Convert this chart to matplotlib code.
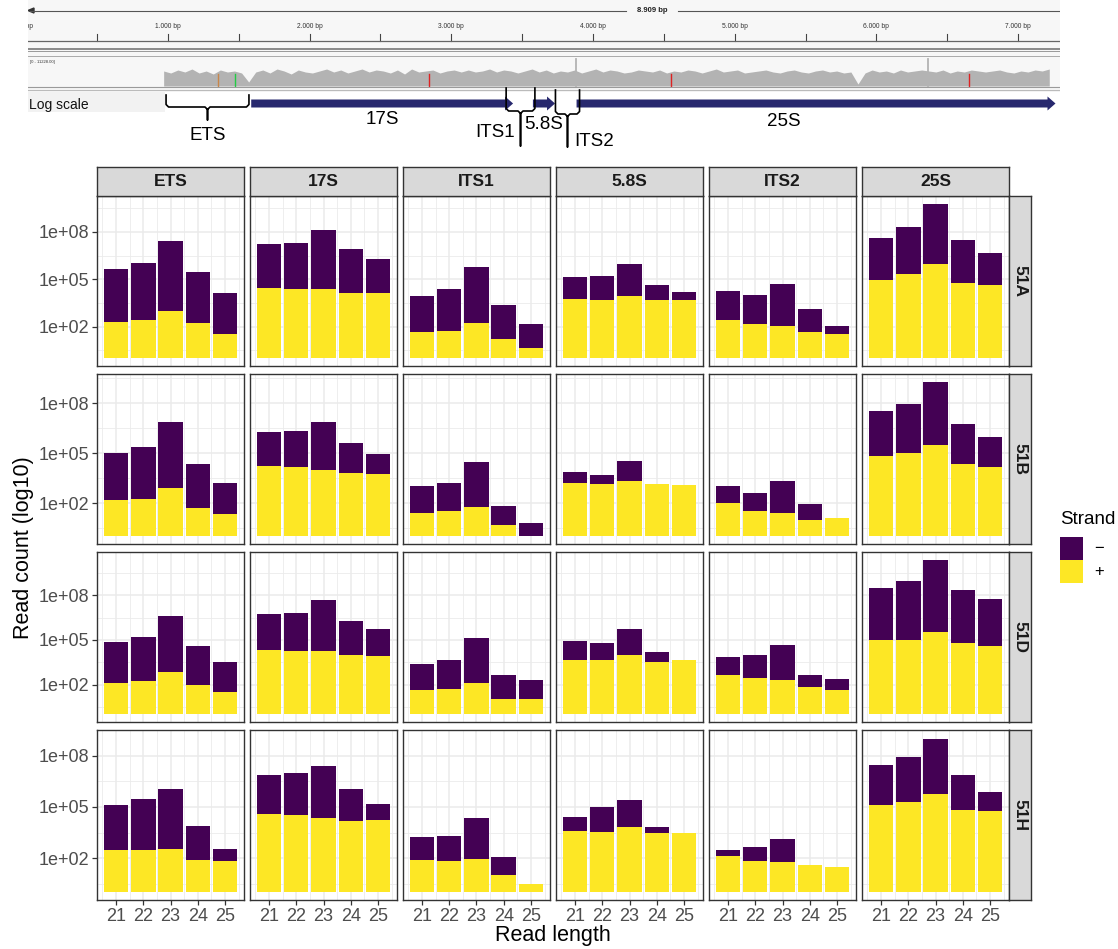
import numpy as np
import matplotlib
matplotlib.use("Agg")
import matplotlib.pyplot as plt
from matplotlib.patches import Rectangle, Polygon

plt.rcParams['font.family'] = ['Liberation Sans', 'DejaVu Sans']

W, H = 1118, 949
fig = plt.figure(figsize=(W / 100, H / 100), dpi=100)

# ---------------- data ----------------
regions = ["ETS", "17S", "ITS1", "5.8S", "ITS2", "25S"]
samples = ["51A", "51B", "51D", "51H"]
read_lengths = [21, 22, 23, 24, 25]
strand_labels = ["\u2212", "+"]
ytick_vals = [2, 5, 8]
ytick_labels = ["1e+02", "1e+05", "1e+08"]

# log10(read count), per region (ETS, 17S, ITS1, 5.8S, ITS2, 25S), per read length 21..25
plus_51A = [[2.32, 2.40, 3.01, 2.21, 1.56], [4.44, 4.36, 4.36, 4.13, 4.13],
            [1.68, 1.75, 2.21, 1.20, 0.67], [3.77, 3.71, 3.94, 3.71, 3.66],
            [2.44, 2.17, 2.02, 1.66, 1.52], [4.99, 5.35, 6.00, 4.74, 4.65]]
minus_51A = [[3.32, 3.64, 4.44, 3.28, 2.57], [2.82, 2.97, 3.79, 2.82, 2.16],
             [2.28, 2.63, 3.60, 2.15, 1.50], [1.35, 1.51, 2.06, 0.94, 0.53],
             [1.79, 1.83, 2.67, 1.46, 0.52], [2.61, 2.94, 3.79, 2.75, 2.00]]

plus_51B = [[2.16, 2.26, 2.92, 1.68, 1.32], [4.23, 4.15, 4.01, 3.79, 3.75],
            [1.40, 1.50, 1.78, 0.67, 0.00], [3.22, 3.14, 3.35, 3.12, 3.06],
            [2.02, 1.50, 1.40, 1.00, 1.10], [4.81, 4.99, 5.47, 4.33, 4.15]]
minus_51B = [[2.87, 3.13, 3.92, 2.67, 1.90], [2.01, 2.17, 2.87, 1.82, 1.18],
             [1.60, 1.72, 2.69, 1.17, 0.78], [0.67, 0.53, 1.20, 0.00, 0.00],
             [0.98, 1.12, 1.91, 0.94, 0.00], [2.71, 2.97, 3.82, 2.43, 1.81]]

plus_51D = [[2.13, 2.22, 2.83, 1.98, 1.53], [4.32, 4.25, 4.25, 4.01, 3.94],
            [1.64, 1.67, 2.13, 1.00, 1.04], [3.67, 3.67, 3.96, 3.52, 3.65],
            [2.67, 2.47, 2.33, 1.84, 1.64], [4.97, 5.01, 5.55, 4.77, 4.61]]
minus_51D = [[2.70, 2.97, 3.79, 2.63, 1.97], [2.41, 2.59, 3.42, 2.28, 1.81],
             [1.72, 2.00, 3.02, 1.67, 1.29], [1.25, 1.14, 1.79, 0.69, 0.00],
             [1.21, 1.49, 2.33, 0.83, 0.74], [3.55, 3.95, 4.84, 3.61, 3.13]]

plus_51H = [[2.46, 2.46, 2.56, 1.90, 1.81], [4.61, 4.51, 4.34, 4.20, 4.26],
            [1.90, 1.81, 1.94, 1.00, 0.46], [3.58, 3.53, 3.83, 3.45, 3.45],
            [2.12, 1.81, 1.77, 1.59, 1.50], [5.11, 5.28, 5.76, 4.82, 4.76]]
minus_51H = [[2.65, 3.00, 3.46, 1.97, 0.75], [2.27, 2.45, 3.03, 1.82, 0.91],
             [1.34, 1.50, 2.40, 1.04, 0.00], [0.81, 1.46, 1.59, 0.35, 0.00],
             [0.34, 0.87, 1.33, 0.00, 0.00], [2.35, 2.63, 3.23, 2.03, 1.12]]

plus_by_sample = {"51A": plus_51A, "51B": plus_51B, "51D": plus_51D, "51H": plus_51H}
minus_by_sample = {"51A": minus_51A, "51B": minus_51B, "51D": minus_51D, "51H": minus_51H}

# genome browser (bp coordinates)
ruler_labels_bp = [0, 1000, 2000, 3000, 4000, 5000, 6000, 7000]
ruler_ticks_bp = [500, 1000, 1500, 2000, 2500, 3000, 3500, 4000, 4500, 5000,
                  5500, 6000, 6500, 7000]
arrow_features = {"17S": (1588, 3436), "5.8S": (3576, 3732), "25S": (3884, 7264)}
brace_features = {"ETS": (987, 1572), "ITS1": (3387, 3590), "ITS2": (3735, 3905)}
# coverage depth (pixels of track height) every 50 bp from 970 bp
cov_h = [15, 13, 16, 14, 17, 13, 15, 12, 16, 14, 15, 13,
         4,
         14, 16, 13, 17, 15, 12, 16, 14, 13, 15, 17, 14, 16, 13, 15,
         17, 14, 16, 15, 13, 16, 12, 17, 14, 15, 16, 13, 15, 16, 14,
         16, 14, 15, 17, 14, 16, 15, 13, 15, 17, 14, 16, 13, 15, 14,
         16, 13, 15, 17, 14, 16, 15, 13, 14, 16, 15, 14, 16, 13, 15,
         14, 16, 15, 13, 15, 17, 14, 15, 16, 13, 14, 15, 16, 14, 13,
         15, 16, 14, 13, 15, 16, 14, 15, 13, 14,
         2,
         13, 16, 14, 15, 13, 16, 14, 15, 16, 15, 14, 16, 13, 15,
         14, 16, 15, 14, 15, 16, 14, 13, 15, 14, 16, 15, 17]
spikes_bp = [3880, 6364]
mismatch_bp = [1353, 1474, 2840, 4550, 6653]
mismatch_col = ['#c8864a', '#22cc44', '#dd2222', '#dd2222', '#dd2222']

PUR = "#440154"
YEL = "#FDE725"


def fbox(x0, y0, w, h):
    return [x0 / W, 1 - (y0 + h) / H, w / W, h / H]


# ---------------- genome browser header ----------------
px0, pxs = 26.2, 0.1417      # pixel of 0 bp, pixels per bp
igv_l, igv_r = 28, 1060
ax_t = fig.add_axes(fbox(igv_l, 0, igv_r - igv_l, 152))
ax_t.set_xlim((igv_l - px0) / pxs, (igv_r - px0) / pxs)
ax_t.set_ylim(152, 0)
ax_t.axis('off')
bp_per_px = 1 / pxs
xl, xr = ax_t.get_xlim()

ax_t.add_patch(Rectangle((xl, 0), xr - xl, 92, facecolor='#f7f7f7', edgecolor='none', zorder=0))
ax_t.add_patch(Rectangle((xl, 92), (165 - igv_l) * bp_per_px, 20, facecolor='#f2f2f2',
                         edgecolor='none', zorder=0))
# top span line
mid_bp = (652 - px0) / pxs
ax_t.plot([xl + 2 * bp_per_px, mid_bp - 26 * bp_per_px], [10.5, 10.5], color='#555555', lw=0.8)
ax_t.plot([mid_bp + 26 * bp_per_px, xr], [10.5, 10.5], color='#555555', lw=0.8)
ax_t.add_patch(Polygon([[xl, 10.5], [xl + 6 * bp_per_px, 8], [xl + 6 * bp_per_px, 13]],
                       closed=True, color='#333333'))
ax_t.text(mid_bp, 11, "8.909 bp", ha='center', va='center', fontsize=5.5,
          fontweight='bold', color='#222222')
for b in ruler_labels_bp:
    ax_t.text(b, 27, f"{b // 1000}.000 bp" if b else "0 bp", ha='center', va='center',
              fontsize=4.8, color='#333333', clip_on=True)
for b in ruler_ticks_bp:
    ax_t.plot([b, b], [33.5, 40.5], color='#444444', lw=0.8)
ax_t.plot([xl, xr], [41, 41], color='#666666', lw=0.9)
ax_t.plot([xl, xr], [48.5, 48.5], color='#8a8a8a', lw=1.4)
ax_t.plot([xl, xr], [51, 51], color='#9a9a9a', lw=0.7)
ax_t.plot([xl, xr], [55.5, 55.5], color='#aaaaaa', lw=0.7)
ax_t.text(xl + 2 * bp_per_px, 62, "[0 - 11228.00]", ha='left', va='center', fontsize=3,
          color='#333333')
# coverage
cov_bp = 970 + 50 * np.arange(len(cov_h))
cov_y = 86 - np.array(cov_h)
ax_t.fill_between(cov_bp, cov_y, 86, color='#b3b3b3', lw=0)
for s in spikes_bp:
    ax_t.plot([s, s], [86, 59], color='#b3b3b3', lw=1.3)
for b, c in zip(mismatch_bp, mismatch_col):
    ax_t.plot([b, b], [86, 74], color=c, lw=1.0)
ax_t.plot([xl, xr], [87.3, 87.3], color='#9a9a9a', lw=0.8)
ax_t.plot([xl, xr], [89.7, 89.7], color='#bbbbbb', lw=0.8)
ax_t.text(xl + 1 * bp_per_px, 105.5, "Log scale", ha='left', va='center', fontsize=10,
          color='#111111')

# arrows
NAVY = '#27286e'
for name, (b0, b1) in arrow_features.items():
    hl = 8 * bp_per_px
    ax_t.add_patch(Polygon([[b0, 99.5], [b1 - hl, 99.5], [b1 - hl, 96.5], [b1, 103.5],
                            [b1 - hl, 110.5], [b1 - hl, 107.5], [b0, 107.5]],
                           closed=True, color=NAVY, lw=0))


def brace(b0, b1, ytop, ybar, yend, xm=None):
    if xm is None:
        xm = (b0 + b1) / 2
    r = 2.5 * bp_per_px
    xs = [b0, b0, b0 + r, xm - r, xm, xm, xm, xm + r, b1 - r, b1, b1]
    ys = [ytop, ybar - 2.5, ybar, ybar, ybar + 2.5, yend, ybar + 2.5, ybar, ybar, ybar - 2.5, ytop]
    ax_t.plot(xs, ys, color='black', lw=1.2, solid_joinstyle='round')


b0, b1 = brace_features["ETS"]
brace(b0, b1, 95, 107, 120)
ax_t.text((b0 + b1) / 2, 135, "ETS", ha='center', va='center', fontsize=13.5)
b0, b1 = brace_features["ITS1"]
brace(b0, b1, 88, 111, 146)
ax_t.text(b0 - 11 * bp_per_px, 132.5, "ITS1", ha='center', va='center', fontsize=13.5)
b0, b1 = brace_features["ITS2"]
brace(b0, b1, 90, 114, 147)
ax_t.text(b1 + 15 * bp_per_px, 141, "ITS2", ha='center', va='center', fontsize=13.5)
b0, b1 = arrow_features["5.8S"]
ax_t.text((b0 + b1) / 2, 124.5, "5.8S", ha='center', va='center', fontsize=13.5)
b0, b1 = arrow_features["17S"]
ax_t.text((b0 + b1) / 2, 119.5, "17S", ha='center', va='center', fontsize=13.5)
b0, b1 = arrow_features["25S"]
ax_t.text((b0 + b1) / 2 - 32 * bp_per_px, 121.5, "25S", ha='center', va='center', fontsize=13.5)

# ---------------- facet grid ----------------
col_left = [97, 250, 403, 556, 709, 862]
pw = 147
row_top = [196, 374, 552, 730]
ph = 170
strip_h = 29
strip_w = 22
BORDER = '#333333'
GRID = '#ebebeb'

for i, s in enumerate(samples):
    plus = plus_by_sample[s]
    minus = minus_by_sample[s]
    tmax = max(p + m for pr, mr in zip(plus, minus) for p, m in zip(pr, mr))
    ylo, yhi = -0.05 * tmax, 1.05 * tmax
    for j, r in enumerate(regions):
        ax = fig.add_axes(fbox(col_left[j], row_top[i], pw, ph))
        ax.set_axisbelow(True)
        ax.bar(read_lengths, plus[j], width=0.9, color=YEL, lw=0)
        ax.bar(read_lengths, minus[j], bottom=plus[j], width=0.9, color=PUR, lw=0)
        ax.set_xlim(20.305, 25.695)
        ax.set_ylim(ylo, yhi)
        ax.set_xticks(read_lengths)
        ax.set_xticks([20.5, 21.5, 22.5, 23.5, 24.5, 25.5], minor=True)
        ax.set_yticks(ytick_vals)
        ax.set_yticks([0.5, 3.5, 6.5, 9.5], minor=True)
        ax.grid(which='major', color=GRID, lw=1.1)
        ax.grid(which='minor', color=GRID, lw=0.6)
        for sp in ax.spines.values():
            sp.set_color(BORDER)
            sp.set_linewidth(1.0)
        ax.tick_params(which='minor', length=0)
        ax.tick_params(which='major', length=3.5, width=0.9, color=BORDER,
                       labelsize=13, labelcolor='#4d4d4d', pad=2)
        if j == 0:
            ax.set_yticklabels(ytick_labels)
        else:
            ax.tick_params(axis='y', which='major', length=0, labelleft=False)
        if i == len(samples) - 1:
            ax.set_xticklabels([str(v) for v in read_lengths])
        else:
            ax.tick_params(axis='x', which='major', length=0, labelbottom=False)

        if i == 0:
            sax = fig.add_axes(fbox(col_left[j], row_top[0] - strip_h, pw, strip_h))
            sax.set_facecolor('#d9d9d9')
            sax.set_xticks([]); sax.set_yticks([])
            for sp in sax.spines.values():
                sp.set_color(BORDER); sp.set_linewidth(1.0)
            sax.text(0.5, 0.5, r, ha='center', va='center', fontsize=12.5,
                     fontweight='bold', color='#1a1a1a', transform=sax.transAxes)
    rax = fig.add_axes(fbox(col_left[-1] + pw, row_top[i], strip_w, ph))
    rax.set_facecolor('#d9d9d9')
    rax.set_xticks([]); rax.set_yticks([])
    for sp in rax.spines.values():
        sp.set_color(BORDER); sp.set_linewidth(1.0)
    rax.text(0.5, 0.5, s, ha='center', va='center', fontsize=12.5, fontweight='bold',
             color='#1a1a1a', rotation=-90, transform=rax.transAxes)

# axis titles
fig.text(24 / W, 1 - 548 / H, "Read count (log10)", rotation=90, ha='center', va='center',
         fontsize=15.5, color='black')
fig.text(553 / W, 1 - 935 / H, "Read length", ha='center', va='center', fontsize=15.5,
         color='black')

# legend
fig.text(1060 / W, 1 - 520 / H, "Strand", ha='left', va='center', fontsize=13.5)
for k, (lab, col) in enumerate(zip(strand_labels, [PUR, YEL])):
    y0 = 537 + 23 * k
    fig.patches.append(Rectangle((1060 / W, 1 - (y0 + 23) / H), 23 / W, 23 / H,
                                 transform=fig.transFigure, facecolor=col, edgecolor='none'))
    fig.text(1094 / W, 1 - (y0 + 11.5) / H, lab, ha='left', va='center', fontsize=12)

fig.savefig("out.png", dpi=100)
